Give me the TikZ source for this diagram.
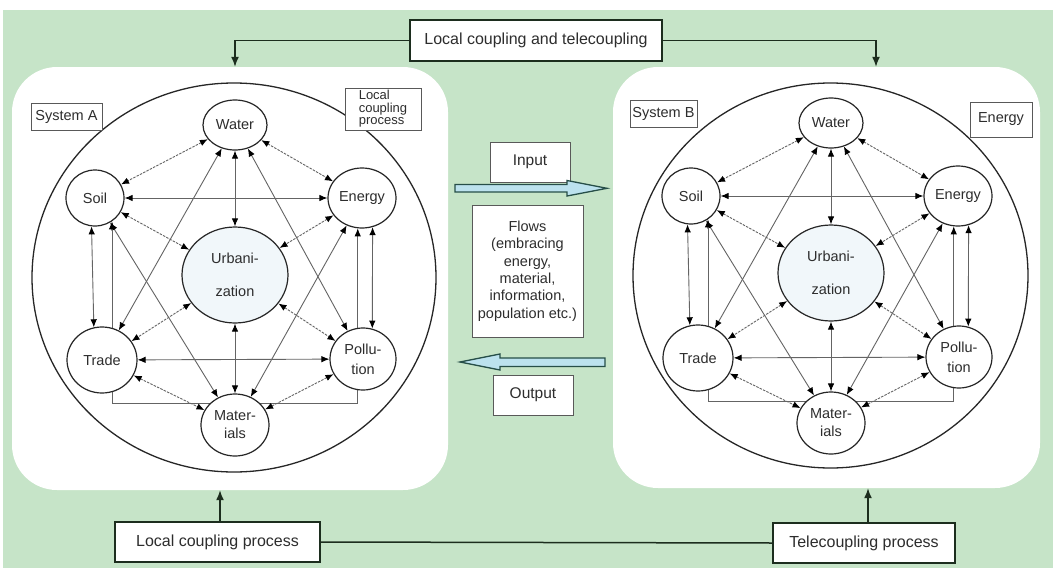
\documentclass[tikz,border=0pt]{standalone}
\usepackage{fontspec}
\setmainfont{Liberation Sans}
\usetikzlibrary{shapes.geometric,arrows.meta}
\pgfdeclarelayer{back}
\pgfdeclarelayer{lines}
\pgfsetlayers{back,lines,main}
\definecolor{bggreen}{RGB}{198,228,200}
\definecolor{linegray}{RGB}{100,100,100}
\definecolor{txt}{RGB}{45,45,45}
\definecolor{darkframe}{RGB}{28,45,30}
\definecolor{flowfill}{RGB}{188,226,238}
\definecolor{flowedge}{RGB}{38,78,72}
\definecolor{urbfill}{RGB}{241,247,250}
\tikzset{
  elem/.style={ellipse, draw=black!85, line width=1.2pt, fill=white, inner sep=0pt,
    text=txt, align=center, font=\fontsize{14.5}{16}\selectfont},
  link/.style={draw=linegray, line width=0.9pt,
    {Latex[length=8pt,width=6.5pt,color=black]}-{Latex[length=8pt,width=6.5pt,color=black]}},
  dlink/.style={link, dash pattern=on 2.5pt off 1.2pt},
  tag/.style={draw=black!65, line width=0.9pt, fill=white, text=txt, inner sep=0pt,
    font=\fontsize{14.5}{16}\selectfont},
  procbox/.style={draw=darkframe, line width=1.6pt, fill=white, text=txt, inner sep=0pt,
    font=\fontsize{16}{18}\selectfont},
  feed/.style={draw=darkframe, line width=1.5pt, -{Latex[length=10pt,width=8pt]}},
  plain/.style={draw=darkframe, line width=1.5pt},
  sysbox/.style={fill=white, draw=none, rounded corners=45pt, inner sep=0pt},
  bigring/.style={draw=black!85, line width=1.3pt},
  flowarrow/.style={fill=flowfill, draw=flowedge, line width=1.3pt, line join=miter},
}
\newcommand\MakeSys[3]{%
\begin{scope}[shift={(#2,#3)}]
\node[elem, minimum width=64pt, minimum height=50pt] (#1wat) at (235,125) {Water};
\node[elem, minimum width=58pt, minimum height=56pt] (#1soil) at (95,198) {Soil};
\node[elem, minimum width=68pt, minimum height=60pt] (#1ene) at (362,198) {Energy};
\node[elem, minimum width=106pt, minimum height=96pt, fill=urbfill] (#1urb) at (235,275) {Urbani-\\[17pt]zation};
\node[elem, minimum width=70pt, minimum height=66pt] (#1tra) at (102,360) {Trade};
\node[elem, minimum width=66pt, minimum height=62pt] (#1pol) at (363,359) {Pollu-\\[4pt]tion};
\node[elem, minimum width=68pt, minimum height=62pt] (#1mat) at (235,425) {Mater-\\[2pt]ials};
\coordinate (#1bot) at (0,403);
\begin{pgfonlayer}{lines}
\draw[dlink] (#1wat) -- (#1soil);
\draw[dlink] (#1wat) -- (#1ene);
\draw[link] (#1wat) -- (#1urb);
\draw[link] (#1wat) -- (#1tra);
\draw[link] (#1wat) -- (#1pol);
\draw[link] (#1soil) -- (#1ene);
\draw[dlink] (#1soil) -- (#1urb);
\draw[link] (#1soil.263) -- (#1tra.104);
\draw[link] (#1soil) -- (#1mat);
\draw[link] (#1soil.306) -- (#1soil.306 |- #1bot) -- (#1ene.262 |- #1bot) -- (#1ene.262);
\draw[dlink] (#1ene) -- (#1urb);
\draw[link] (#1ene.290) -- (#1pol.73);
\draw[link] (#1ene) -- (#1mat);
\draw[dlink] (#1urb) -- (#1tra);
\draw[dlink] (#1urb) -- (#1pol);
\draw[link] (#1urb) -- (#1mat);
\draw[link] (#1tra) -- (#1pol);
\draw[dlink] (#1tra) -- (#1mat);
\draw[dlink] (#1pol) -- (#1mat);
\end{pgfonlayer}
\end{scope}}
\begin{document}
\begin{tikzpicture}[x=1pt,y=-1pt]
\useasboundingbox (0,0) rectangle (1053,568);
\begin{pgfonlayer}{back}
\fill[white] (0,0) rectangle (1053,568);
\fill[bggreen] (3,10) rectangle (1053,568);
\node[sysbox, minimum width=436pt, minimum height=423pt] (sysA) at (230,278.5) {};
\node[sysbox, minimum width=427pt, minimum height=421pt] (sysB) at (826.5,277.5) {};
\draw[bigring] (234,277.5) ellipse [x radius=202, y radius=194.5];
\draw[bigring] (830.5,275.5) ellipse [x radius=197.5, y radius=192.5];
\end{pgfonlayer}

\MakeSys{a}{0}{0}
\MakeSys{b}{596}{-2}

% labels inside systems
\node[tag, minimum width=71pt, minimum height=27pt] (sysAlab) at (66.5,116.5) {System A};
\node[tag, minimum width=76pt, minimum height=42pt, align=left,
  font=\fontsize{13}{12.6}\selectfont] (lcplab) at (383,109) {Local\\coupling\\process};
\node[tag, minimum width=67pt, minimum height=27pt] (sysBlab) at (663.5,113.5) {System B};
\node[tag, minimum width=62pt, minimum height=35pt] (enelab) at (1001,119.5) {Energy};

% middle
\node[tag, minimum width=80pt, minimum height=40pt, font=\fontsize{15.5}{17}\selectfont] (inp) at (530,162) {Input};
\node[tag, minimum width=111pt, minimum height=132pt, align=center,
  font=\fontsize{14.5}{17.4}\selectfont] (flows) at (527.5,271)
  {Flows\\(embracing\\energy,\\material,\\information,\\population etc.)};
\node[tag, minimum width=80pt, minimum height=40pt, font=\fontsize{15.5}{17}\selectfont] (outp) at (533,395) {Output};

\draw[flowarrow] (455,184.5) -- (567,184.5) -- (567,180.5) -- (607,188.3) -- (567,196) -- (567,192) -- (455,192) -- cycle;
\draw[flowarrow] (605,358) -- (500,358) -- (500,354) -- (460,362) -- (500,370) -- (500,366.5) -- (605,366.5) -- cycle;

% process boxes
\node[procbox, minimum width=252pt, minimum height=41pt] (top) at (536,40.5) {Local coupling and telecoupling};
\node[procbox, minimum width=205pt, minimum height=40pt] (lcp) at (217.5,542) {Local coupling process};
\node[procbox, minimum width=182pt, minimum height=40pt] (tcp) at (864,543) {Telecoupling process};

\draw[feed] (top.west) -| ([xshift=5pt]sysA.north);
\draw[feed] (top.east) -| ([xshift=49.5pt]sysB.north);
\draw[feed] ([xshift=2.5pt]lcp.north) -- ([xshift=2.5pt]lcp.north |- sysA.south);
\draw[feed] ([xshift=4pt]tcp.north) -- ([xshift=4pt]tcp.north |- sysB.south);
\draw[plain] (lcp.east) -- (tcp.west);
\end{tikzpicture}
\end{document}
